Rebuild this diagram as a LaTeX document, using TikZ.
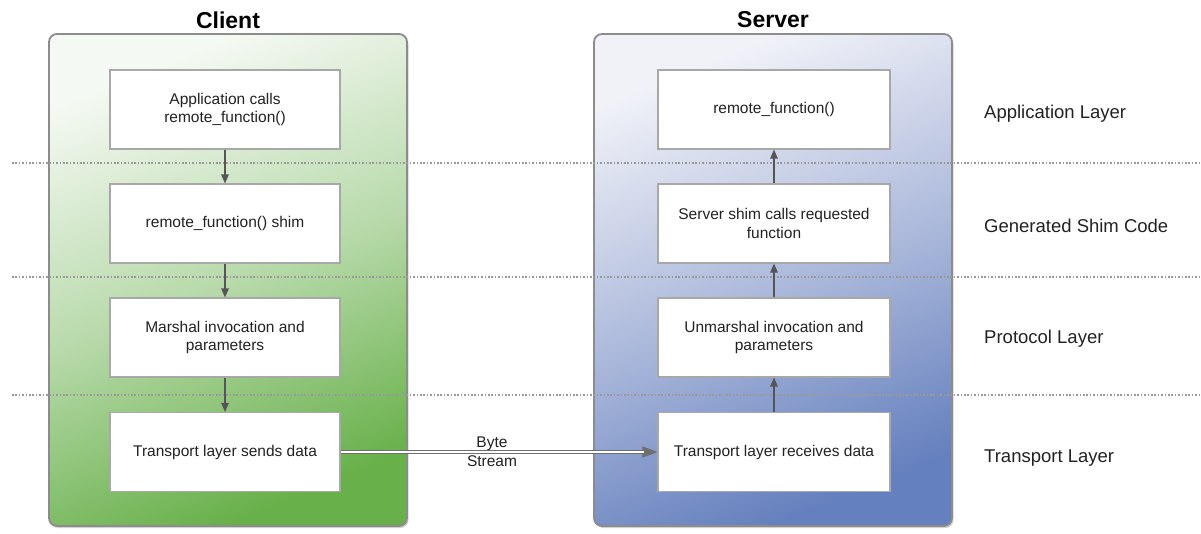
\documentclass[tikz,border=0pt]{standalone}
\usepackage{fontspec}
\setmainfont{Liberation Sans}
\usetikzlibrary{arrows.meta,shadows}
\definecolor{panelborder}{HTML}{8C8C8C}
\definecolor{boxborder}{HTML}{A8A8A8}
\definecolor{arrowgray}{HTML}{555555}
\definecolor{textgray}{HTML}{222222}
\definecolor{gtop}{HTML}{F5F9F3}
\definecolor{gmid}{HTML}{B8DAAB}
\definecolor{gbot}{HTML}{68B04A}
\definecolor{btop}{HTML}{F1F2F8}
\definecolor{bmid}{HTML}{AEBBDC}
\definecolor{bbot}{HTML}{6580BE}
\definecolor{dotgray}{HTML}{999999}
\tikzset{
  panel/.style={draw=panelborder, line width=1.8pt, rounded corners=8pt,
    minimum width=358pt, minimum height=492pt,
    drop shadow={shadow xshift=1.5pt, shadow yshift=-2pt, opacity=0.35}},
  clientpanel/.style={panel, top color=gtop, bottom color=gbot, middle color=gmid, shading angle=22},
  serverpanel/.style={panel, top color=btop, bottom color=bbot, middle color=bmid, shading angle=22},
  stepbox/.style={draw=boxborder, line width=1.1pt, fill=white,
    minimum width=230pt, minimum height=79pt, align=center, text=textgray,
    font=\fontsize{15.5pt}{18.5pt}\selectfont, inner sep=2pt},
  title/.style={font=\bfseries\fontsize{23pt}{26pt}\selectfont, text=black},
  layerlabel/.style={anchor=west, font=\fontsize{18.5pt}{22pt}\selectfont, text=textgray, inner sep=0pt},
  flow/.style={draw=arrowgray, line width=1.2pt, -{Triangle[length=9pt,width=7.5pt]}},
  layerline/.style={draw=dotgray, line width=1.1pt, dash pattern=on 1.6pt off 1.8pt},
  streamtip/.style={draw=arrowgray!85, line width=1pt, -{Triangle[length=15pt,width=11pt]}},
  streamshaft/.style={draw=arrowgray!85, line width=1.2pt, double=white, double distance=2.2pt},
  streamlabel/.style={font=\fontsize{15.5pt}{18.5pt}\selectfont, text=textgray, inner sep=0pt}
}
\begin{document}
\begin{tikzpicture}[x=1pt,y=-1pt]
\useasboundingbox[fill=white] (0,0) rectangle (1201,533);

% panels
\node[clientpanel] (cpanel) at (228,280) {};
\node[serverpanel] (spanel) at (773,280) {};

% titles
\node[title] (ctitle) at (228,20) {Client};
\node[title] (stitle) at (773,20) {Server};

% layer separators
\draw[layerline] (12,163) -- (1201,163);
\draw[layerline] (12,277) -- (1201,277);
\draw[layerline] (12,395) -- (1201,395);

% client boxes
\node[stepbox] (c1) at (225,109.5) {Application calls\\remote\_function()};
\node[stepbox] (c2) at (225,223.5) {remote\_function() shim};
\node[stepbox] (c3) at (225,337.5) {Marshal invocation and\\parameters};
\node[stepbox] (c4) at (225,452) {Transport layer sends data};

% server boxes
\node[stepbox, minimum width=232pt] (s1) at (774,109.5) {remote\_function()};
\node[stepbox, minimum width=232pt] (s2) at (774,223.5) {Server shim calls requested\\function};
\node[stepbox, minimum width=232pt] (s3) at (774,337.5) {Unmarshal invocation and\\parameters};
\node[stepbox, minimum width=232pt] (s4) at (774,452) {Transport layer receives data};

% client flow (down)
\draw[flow] (c1.south) -- (c2.north);
\draw[flow] (c2.south) -- (c3.north);
\draw[flow] (c3.south) -- (c4.north);

% server flow (up)
\draw[flow] (s4.north) -- (s3.south);
\draw[flow] (s3.north) -- (s2.south);
\draw[flow] (s2.north) -- (s1.south);

% byte stream
\draw[streamtip] (c4.east) -- (s4.west);
\draw[streamshaft] (c4.east) -- ([xshift=-13pt]s4.west);
\node[streamlabel, anchor=base] (bytelbl) at (492,447) {Byte};
\node[streamlabel, anchor=base] (streamlbl) at (492,466) {Stream};

% layer labels
\node[layerlabel] (l1) at (984,113.5) {Application Layer};
\node[layerlabel] (l2) at (984,225.5) {Generated Shim Code};
\node[layerlabel] (l3) at (984,339) {Protocol Layer};
\node[layerlabel] (l4) at (984,458) {Transport Layer};
\end{tikzpicture}
\end{document}
